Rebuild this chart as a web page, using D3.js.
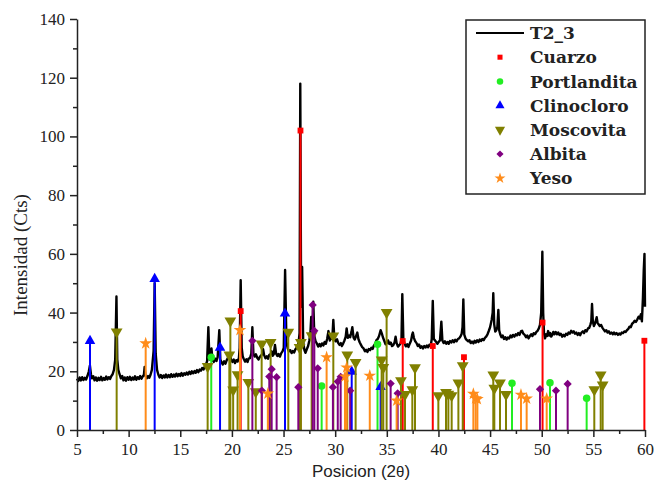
<!DOCTYPE html>
<html>
<head>
<meta charset="utf-8">
<script src="https://cdn.jsdelivr.net/npm/d3@7"></script>
<style>
  html, body { margin: 0; padding: 0; background: #ffffff; }
  svg { display: block; }
</style>
</head>
<body>
<svg id="chart" width="656" height="486"></svg>
<script>
// ---------- DATA ----------
const xTickValues = [5, 10, 15, 20, 25, 30, 35, 40, 45, 50, 55, 60];
const yTickValues = [0, 20, 40, 60, 80, 100, 120, 140];

// XRD pattern T2_3: [2theta, counts]
const patternT2_3 = [
  [5.0,17.5],[5.12,16.7],[5.25,17.9],[5.38,16.9],[5.5,18.0],[5.62,17.0],[5.75,17.8],[5.88,17.2],[6.0,18.3],
  [6.15,20],[6.25,22],[6.35,19],[6.45,17.6],[6.58,18.3],[6.7,16.9],[6.82,17.9],[6.95,16.8],[7.08,17.8],
  [7.2,17.0],[7.33,18.1],[7.45,16.9],[7.58,17.7],[7.7,17.1],[7.83,18.2],[7.95,17.2],[8.08,18.0],[8.2,17.4],
  [8.33,18.4],[8.45,19.0],[8.58,20.5],[8.7,24],[8.82,45.5],[8.9,24],[9.0,20.5],[9.12,19.0],[9.25,17.6],
  [9.38,18.4],[9.5,16.9],[9.62,17.9],[9.75,16.8],[9.88,18.0],[10.0,17.1],[10.12,18.1],[10.25,17.0],
  [10.38,17.9],[10.5,17.2],[10.62,18.3],[10.75,17.1],[10.88,18.0],[11.0,17.4],[11.12,18.4],[11.25,17.5],
  [11.38,18.3],[11.48,18.8],[11.55,21.5],[11.62,18.6],[11.75,17.6],[11.88,18.4],[12.0,17.8],[12.12,18.8],
  [12.25,20.5],[12.42,27],[12.52,50],[12.62,26],[12.75,20.5],[12.88,18.8],[13.0,17.9],[13.12,18.7],
  [13.25,17.7],[13.38,18.6],[13.5,17.9],[13.62,18.9],[13.75,17.9],[13.88,18.7],[14.0,18.0],[14.12,19.0],
  [14.25,18.1],[14.38,18.9],[14.5,18.2],[14.62,19.2],[14.75,18.3],[14.88,19.1],[15.0,18.4],[15.12,19.4],
  [15.25,18.5],[15.38,19.3],[15.5,18.8],[15.62,19.6],[15.75,18.9],[15.88,19.8],[16.0,19.1],[16.12,20.0],
  [16.25,19.3],[16.38,20.1],[16.5,19.5],[16.62,20.4],[16.75,19.7],[16.88,20.6],[17.0,20.2],[17.12,21.1],
  [17.25,20.6],[17.38,21.6],[17.5,22.4],[17.6,23.5],[17.72,35],[17.82,24],[17.95,26],[18.02,27.8],
  [18.12,24],[18.25,23.2],[18.38,24.3],[18.5,23.5],[18.62,24.8],[18.78,34],[18.88,24],[19.0,23.0],
  [19.12,22.3],[19.25,23.4],[19.38,22.6],[19.5,23.8],[19.62,24.6],[19.72,25],[19.82,26],[19.92,24],
  [20.05,23.2],[20.18,24],[20.3,22.8],[20.42,23.8],[20.55,23.3],[20.68,24.6],[20.75,28],[20.85,51],
  [20.95,28],[21.05,25],[21.15,24.2],[21.28,23.3],[21.4,24.1],[21.52,23.2],[21.62,24.3],[21.75,24.5],
  [21.88,26],[21.98,35],[22.08,26],[22.2,25],[22.32,25.8],[22.45,24.6],[22.58,24.0],[22.7,24.9],
  [22.82,25.3],[22.95,26],[23.02,27.5],[23.12,25.5],[23.25,24.4],[23.38,25.1],[23.5,24.3],[23.62,25.6],
  [23.75,25.8],[23.85,26.8],[23.95,25.3],[24.05,25.8],[24.17,29],[24.28,26],[24.4,25.2],[24.52,25.9],
  [24.65,25.0],[24.78,26.2],[24.9,26.8],[25.02,28],[25.15,54.5],[25.28,30],[25.4,27.8],[25.52,26.8],
  [25.65,27.2],[25.78,26.2],[25.9,26.9],[26.02,26.4],[26.15,27.5],[26.3,28.2],[26.45,29.5],[26.55,33],
  [26.62,118],[26.7,42],[26.8,55.5],[26.9,30],[27.02,27.2],[27.12,26.3],[27.25,27.5],[27.38,28.6],
  [27.5,30.5],[27.6,33],[27.68,38.5],[27.78,32],[27.88,43.7],[27.98,32],[28.1,30.2],[28.22,29.5],
  [28.35,28.4],[28.48,29.3],[28.6,28.5],[28.72,29.5],[28.85,28.8],[28.98,30],[29.1,29.4],[29.22,31],
  [29.35,33.7],[29.48,30.5],[29.6,31.4],[29.72,31],[29.82,37.5],[29.92,31],[30.05,30.2],[30.18,30.9],
  [30.3,29.6],[30.42,29],[30.55,29.6],[30.65,28.6],[30.78,29.5],[30.9,30.5],[31.02,31.8],[31.11,34.6],
  [31.22,31.4],[31.35,32.2],[31.45,31.6],[31.58,33.5],[31.66,35],[31.78,31.5],[31.9,30.8],[32.02,32],
  [32.14,33.2],[32.25,31],[32.38,29.8],[32.5,29],[32.62,28.2],[32.75,27.8],[32.88,26.8],[33.0,27.3],
  [33.12,26.6],[33.25,27.6],[33.38,27.2],[33.5,28.0],[33.62,27.6],[33.75,28.8],[33.88,29.4],[34.0,30.6],
  [34.12,31.0],[34.25,32],[34.4,34],[34.52,32.8],[34.62,31.6],[34.75,30.4],[34.88,29.2],[35.0,29.6],
  [35.12,30.5],[35.25,29.3],[35.38,29.8],[35.5,28.6],[35.62,28.9],[35.75,29.8],[35.85,31.8],[35.95,29.6],
  [36.08,28.4],[36.2,28.9],[36.32,29.4],[36.42,31],[36.5,46.3],[36.6,31],[36.72,29.4],[36.85,28.5],
  [36.98,29.2],[37.1,28.3],[37.22,29.4],[37.35,30.5],[37.45,32.4],[37.52,33.2],[37.62,31.4],[37.75,30.2],
  [37.88,29.6],[38.0,28.6],[38.12,29.1],[38.25,28.0],[38.38,28.5],[38.5,27.8],[38.62,28.6],[38.75,28.1],
  [38.88,28.8],[39.0,28.2],[39.12,29],[39.25,28.6],[39.35,31],[39.45,44],[39.55,31],[39.65,30.6],
  [39.78,30.0],[39.9,29.4],[40.02,30],[40.15,30.6],[40.28,36.9],[40.38,30.5],[40.5,29.6],[40.62,30.2],
  [40.75,29.4],[40.88,30.0],[41.0,29.4],[41.12,30.3],[41.25,29.8],[41.38,30.6],[41.5,29.9],[41.62,30.7],
  [41.75,30.2],[41.88,31.0],[42.0,31.2],[42.12,31.8],[42.25,32.8],[42.33,35],[42.41,44.5],[42.5,32.5],
  [42.62,31.2],[42.75,30.6],[42.88,30.2],[43.0,30.6],[43.12,29.6],[43.25,30.1],[43.38,29.5],[43.5,30.4],
  [43.62,29.8],[43.75,30.6],[43.88,30.0],[44.0,30.8],[44.12,30.3],[44.25,31.0],[44.38,30.6],[44.5,31.4],
  [44.62,31.8],[44.75,32.6],[44.88,33.8],[45.0,35],[45.15,37.5],[45.25,40],[45.31,46.6],[45.4,36],
  [45.5,33.5],[45.6,34],[45.7,35],[45.8,40.9],[45.88,34],[45.98,32.6],[46.1,31.6],[46.22,32.2],
  [46.35,31.0],[46.48,31.6],[46.6,30.8],[46.72,31.5],[46.85,31.2],[46.98,32.2],[47.1,31.6],[47.22,32.4],
  [47.35,31.8],[47.48,32.6],[47.6,32.2],[47.72,33.0],[47.85,32.4],[47.98,33.6],[48.1,33.8],[48.22,32.8],
  [48.35,32.4],[48.48,31.6],[48.6,32.2],[48.72,31.2],[48.85,32.0],[48.98,32.6],[49.1,32.0],[49.22,33.0],
  [49.35,32.6],[49.48,33.4],[49.6,33.8],[49.72,34.6],[49.83,35.8],[49.95,40],[50.06,60.7],[50.14,40],
  [50.22,33],[50.32,31.2],[50.42,32.6],[50.52,32],[50.62,33.7],[50.72,32.2],[50.82,33],[50.92,31.8],
  [51.02,32.4],[51.12,33.4],[51.22,32.6],[51.35,33.4],[51.48,32.6],[51.6,33.2],[51.72,32.4],[51.85,32.8],
  [51.98,31.8],[52.1,32.4],[52.22,31.9],[52.35,32.8],[52.48,32.4],[52.6,33.2],[52.72,32.8],[52.85,33.8],
  [52.98,33.2],[53.1,33.6],[53.22,32.8],[53.35,33.2],[53.48,32.4],[53.6,33],[53.72,32.3],[53.85,33.2],
  [53.98,33.6],[54.1,33.0],[54.22,34.0],[54.35,33.6],[54.48,34.6],[54.6,34.8],[54.72,36],[54.8,37],
  [54.87,42.9],[54.95,37],[55.05,35.4],[55.15,36.2],[55.25,37.4],[55.32,38.4],[55.4,36.6],[55.5,36.0],
  [55.62,35.4],[55.75,35.8],[55.88,34.8],[56.0,34.2],[56.12,33.6],[56.25,34.0],[56.38,33.2],[56.5,33.6],
  [56.62,32.8],[56.75,33.2],[56.88,32.6],[57.0,33.2],[57.12,32.6],[57.25,33.0],[57.38,32.4],[57.5,32.9],
  [57.62,32.5],[57.75,33.2],[57.88,33.0],[58.0,33.6],[58.12,33.4],[58.25,34.0],[58.38,34.4],[58.5,35.2],
  [58.62,35.0],[58.75,36.2],[58.88,36.6],[59.0,37.2],[59.12,36.8],[59.25,37.6],[59.38,38.6],[59.5,38.0],
  [59.6,39.4],[59.7,37],[59.8,45],[59.88,54.5],[59.95,60],[60.0,42]
];

// Reference stick patterns: [2theta, intensity]
const cuarzo = [[20.85,40.5],[26.64,102],[36.54,30.3],[39.45,28.6],[42.47,24.8],[50.08,36.6],[59.94,30.4]];
const portlandita = [[18.0,24.8],[28.69,15.0],[34.1,29.2],[47.12,15.9],[50.8,16.1],[54.35,10.8]];
const clinocloro = [[6.26,30.7],[12.52,51.8],[18.85,28.4],[25.14,40.0],[31.6,20.2],[34.4,15.0]];
const moscovita = [[8.84,33.1],[17.65,21.3],[19.75,25.2],[19.85,36.8],[20.12,13.3],[20.55,18.5],
  [21.59,15.9],[22.31,12.7],[22.88,29.0],[23.75,29.5],[25.46,33.0],[26.55,27.8],[26.68,29.5],
  [27.72,31.8],[29.82,31.7],[31.17,25.2],[31.98,22.7],[34.5,23.5],[34.66,21.0],[34.98,39.7],
  [36.37,16.5],[36.76,11.8],[37.47,13.4],[37.73,20.9],[39.99,11.4],[40.73,12.5],[40.96,11.9],
  [41.28,11.4],[41.93,15.7],[42.35,21.6],[45.31,18.4],[45.41,13.9],[45.96,15.7],[46.54,11.8],
  [55.09,13.4],[55.71,18.4],[55.9,15.0]];
const albita = [[21.98,30.4],[22.9,13.4],[23.62,18.2],[23.85,20.7],[24.33,18.0],[26.43,14.6],
  [27.82,42.6],[27.98,33.8],[28.31,21.0],[29.78,14.6],[30.25,16.5],[30.53,18.1],[31.45,13.4],
  [35.37,15.8],[36.05,12.5],[49.83,13.9],[51.38,13.4],[52.51,15.7]];
const yeso = [[11.65,29.5],[20.78,34.0],[23.48,12.4],[29.17,24.8],[30.95,18.2],[31.11,21.3],
  [33.35,18.5],[35.95,10.0],[43.38,12.3],[43.6,10.8],[43.77,10.5],[47.99,12.0],[48.54,10.7],[50.48,10.7]];

const phaseNames = ["Cuarzo", "Portlandita", "Clinocloro", "Moscovita", "Albita", "Yeso"];
const phaseData = [cuarzo, portlandita, clinocloro, moscovita, albita, yeso];
const phaseColors = ["#FF0000", "#22EE22", "#0000FF", "#808000", "#800080", "#FF8C1A"];
const phaseSymbols = [d3.symbolSquare, d3.symbolCircle, d3.symbolTriangle, d3.symbolTriangle, d3.symbolSquare, d3.symbolStar];
const phaseSymbolSize = [34, 44, 48, 60, 34, 50];
const phaseRotate = [0, 0, 0, 180, 45, 0];
const seriesName = "T2_3";

// ---------- LAYOUT ----------
const svg = d3.select("#chart");
const x = d3.scaleLinear().domain([5, 60]).range([77, 645]);
const y = d3.scaleLinear().domain([0, 140]).range([430, 19]);

const serif = "'Liberation Serif', 'DejaVu Serif', serif";
const legendFont = "'DejaVu Serif', 'Liberation Serif', serif";

// Pattern line
const line = d3.line().x(d => x(d[0])).y(d => y(d[1]));
svg.append("path")
  .datum(patternT2_3)
  .attr("d", line)
  .attr("fill", "none")
  .attr("stroke", "#000")
  .attr("stroke-width", 2.4)
  .attr("stroke-linejoin", "round");

// Sticks
phaseData.forEach((data, i) => {
  const g = svg.append("g");
  g.selectAll("line").data(data).join("line")
    .attr("x1", d => x(d[0])).attr("x2", d => x(d[0]))
    .attr("y1", y(0)).attr("y2", d => y(d[1]))
    .attr("stroke", phaseColors[i]).attr("stroke-width", 2);
  g.selectAll("path").data(data).join("path")
    .attr("d", d3.symbol().type(phaseSymbols[i]).size(phaseSymbolSize[i]))
    .attr("transform", d => `translate(${x(d[0])},${y(d[1]) + (phaseRotate[i] === 180 ? -1 : (phaseRotate[i] === 0 && i === 2 ? 1 : 0))}) rotate(${phaseRotate[i]})`)
    .attr("fill", phaseColors[i]);
});

// Axes
const xAxis = svg.append("g").attr("transform", "translate(0,430)")
  .call(d3.axisBottom(x).tickValues(xTickValues).tickSize(7).tickSizeOuter(0).tickPadding(6));
const xMinor = svg.append("g").attr("transform", "translate(0,430)")
  .call(d3.axisBottom(x).tickValues(xTickValues.slice(0, -1).map(v => v + 2.5)).tickSize(4).tickFormat(""));
xMinor.select(".domain").remove();

const yAxis = svg.append("g").attr("transform", "translate(77,0)")
  .call(d3.axisLeft(y).tickValues(yTickValues).tickSize(7).tickSizeOuter(0).tickPadding(5));
const yMinor = svg.append("g").attr("transform", "translate(77,0)")
  .call(d3.axisLeft(y).tickValues(yTickValues.slice(0, -1).map(v => v + 10)).tickSize(4).tickFormat(""));
yMinor.select(".domain").remove();

[xAxis, yAxis, xMinor, yMinor].forEach(a => {
  a.selectAll("path, line").attr("stroke", "#222").attr("stroke-width", 1.5);
  a.selectAll("text").attr("fill", "#222").style("font-family", serif).style("font-size", "17px");
});

// Axis titles
const xt = svg.append("text")
  .attr("x", 361).attr("y", 477)
  .attr("text-anchor", "middle")
  .style("font-family", "'Liberation Sans', Arial, sans-serif")
  .style("font-size", "17px").attr("fill", "#222");
xt.append("tspan").text("Posicion (2");
xt.append("tspan").style("font-size", "15px").text("θ");
xt.append("tspan").text(")");

svg.append("text")
  .attr("transform", "translate(27,255) rotate(-90)")
  .attr("text-anchor", "middle")
  .style("font-family", serif)
  .style("font-size", "19px").attr("fill", "#222")
  .text("Intensidad (Cts)");

// Legend
const lg = svg.append("g");
lg.append("rect").attr("x", 466).attr("y", 20).attr("width", 179).attr("height", 174)
  .attr("fill", "#fff").attr("stroke", "#222").attr("stroke-width", 1.5);
const rowY = i => 33 + i * 24.2;
lg.append("line").attr("x1", 476).attr("x2", 524).attr("y1", rowY(0)).attr("y2", rowY(0))
  .attr("stroke", "#000").attr("stroke-width", 2);
lg.append("text").attr("x", 530).attr("y", rowY(0)).attr("dy", "0.36em")
  .style("font-family", legendFont).style("font-weight", "bold").style("font-size", "17px").attr("fill", "#222")
  .text(seriesName);
phaseNames.forEach((name, i) => {
  const yy = rowY(i + 1);
  lg.append("path")
    .attr("d", d3.symbol().type(phaseSymbols[i]).size(phaseSymbolSize[i] * 0.75))
    .attr("transform", `translate(500,${yy}) rotate(${phaseRotate[i]})`)
    .attr("fill", phaseColors[i]);
  lg.append("text").attr("x", 530).attr("y", yy).attr("dy", "0.36em")
    .style("font-family", legendFont).style("font-weight", "bold").style("font-size", "17px").attr("fill", "#222")
    .text(name);
});
</script>
</body>
</html>
